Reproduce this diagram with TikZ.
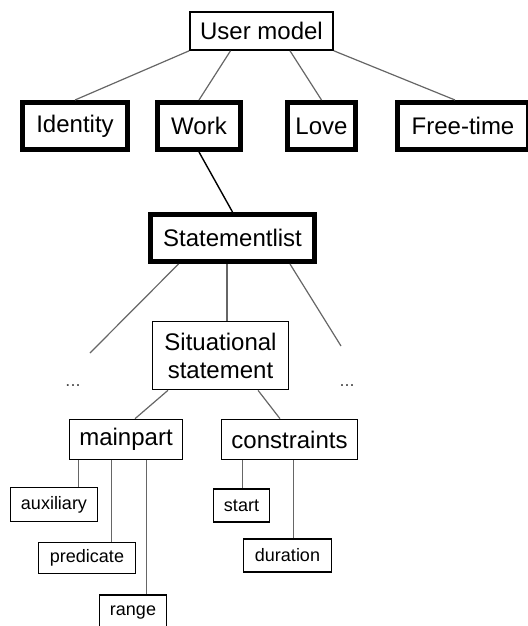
\documentclass[tikz,border=0pt]{standalone}
\usepackage{fontspec}
\setmainfont{Liberation Sans}
\usetikzlibrary{calc}

\begin{document}
\begin{tikzpicture}[x=0.5pt, y=-0.5pt,
    area/.style={rectangle, draw=black, fill=white, line width=2.5pt,
                 inner sep=0pt, align=center, font=\fontsize{12}{14}\selectfont},
    plain/.style={rectangle, draw=black, fill=white, line width=0.8pt,
                  inner sep=0pt, align=center, font=\fontsize{12}{14}\selectfont},
    leaf/.style={rectangle, draw=black, fill=white, line width=0.8pt,
                 inner sep=0pt, align=center, font=\fontsize{9}{11}\selectfont},
    more/.style={font=\fontsize{9}{11}\selectfont, text=black!70},
    link/.style={line width=0.6pt, black!60}]

\useasboundingbox (0,0) rectangle (528,626);
\clip (0,0) rectangle (528,626);

% Top: user model and its areas
\node[plain, minimum width=71.5pt, minimum height=19pt] (um) at (261.5, 31) {User model};
\node[area, minimum width=52.5pt, minimum height=23.5pt] (id)   at (75, 126)    {Identity};
\node[area, minimum width=41.5pt, minimum height=23.5pt] (work) at (199, 126)   {Work};
\node[area, minimum width=34pt,   minimum height=23.5pt] (love) at (321.5, 126) {Love};
\node[area, minimum width=65.5pt, minimum height=23.5pt] (ft)   at (463, 126)   {Free-time};

\draw[link] (um.south west) -- (id.north);
\draw[link] ([xshift=-15.5pt]um.south) -- (work.north);
\draw[link] ([xshift=14.25pt]um.south) -- (love.north);
\draw[link] (um.south east) -- ([xshift=-4pt]ft.north);

% Statement list under Work
\node[area, minimum width=82pt, minimum height=23.5pt] (sl) at (232.5, 238) {Statementlist};
\draw[line width=0.7pt, black] (work.south) -- (sl.north);

\node[plain, minimum width=68pt, minimum height=34pt] (ss) at (220.5, 355.5)
  {Situational\\statement};
\node[more] (dl) at (73, 386) {...};
\node[more] (dr) at (347, 386) {...};
\coordinate (dlend) at (90, 353);
\coordinate (drend) at (341, 346);

\draw[link] ([xshift=-27pt]sl.south) -- (dlend);
\draw[link] ([xshift=-2.75pt]sl.south) -- ([xshift=-2.75pt]sl.south |- ss.north);
\draw[link] ([xshift=28.75pt]sl.south) -- (drend);

% Parts of a situational statement
\node[plain, minimum width=56.5pt, minimum height=20pt] (mp) at (126, 439.5)   {mainpart};
\node[plain, minimum width=68pt,   minimum height=20pt] (co) at (289.5, 439.5) {constraints};

\draw[link] ([xshift=-26.25pt]ss.south) -- ([xshift=4.5pt]mp.north);
\draw[link] ([xshift=18.75pt]ss.south) -- ([xshift=-4.75pt]co.north);

% Leaves
\node[leaf, minimum width=43.5pt, minimum height=17pt]   (aux)  at (54, 504.5)    {auxiliary};
\node[leaf, minimum width=48.5pt, minimum height=15.5pt] (pred) at (87, 558)      {predicate};
\node[leaf, minimum width=33.5pt, minimum height=18pt]   (rng)  at (133, 613)     {range};
\node[leaf, minimum width=28pt,   minimum height=16.5pt] (st)   at (241.5, 505.5) {start};
\node[leaf, minimum width=44pt,   minimum height=16.5pt] (dur)  at (287.5, 555.5) {duration};

\draw[link] ([xshift=5pt]mp.south west)    -- ([xshift=5pt]mp.south west |- aux.north);
\draw[link] ([xshift=21.5pt]mp.south west) -- ([xshift=21.5pt]mp.south west |- pred.north);
\draw[link] ([xshift=39pt]mp.south west)   -- ([xshift=39pt]mp.south west |- rng.north);
\draw[link] ([xshift=11pt]co.south west)   -- ([xshift=11pt]co.south west |- st.north);
\draw[link] ([xshift=36.5pt]co.south west) -- ([xshift=36.5pt]co.south west |- dur.north);

\end{tikzpicture}
\end{document}
